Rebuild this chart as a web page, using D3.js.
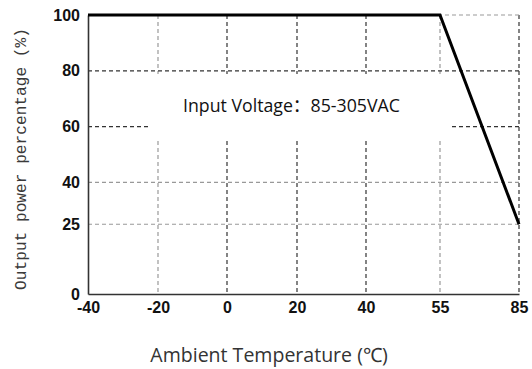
<!DOCTYPE html>
<html>
<head>
<meta charset="utf-8">
<script src="https://cdn.jsdelivr.net/npm/d3@7"></script>
<style>
  html, body { margin: 0; padding: 0; background: #fff; }
  svg { display: block; }
</style>
</head>
<body>
<svg id="chart" width="532" height="369"></svg>
<script>
// ---- data ----
const temperature = [-40, 55, 85];        // ambient temperature (°C)
const powerPct    = [100, 100, 25];       // output power percentage (%)
const xTickValues = [-40, -20, 0, 20, 40, 55, 85];
const yTickValues = [0, 25, 40, 60, 80, 100];
const xTitle = "Ambient Temperature (\u2103)";
const yTitle = "Output power percentage (%)";
const noteText = "Input Voltage\uFF1A85-305VAC";

// ---- layout ----
const W = 532, H = 369;
const plot = { left: 88, right: 519, top: 15, bottom: 294 };
// the reference axis is non-uniform: tick positions along the x axis
const xTickPx = [88, 158, 227, 297, 366, 440, 519];
const darkX = new Set([0, 20, 40, 85]);
const darkY = new Set([60, 80]);

const svg = d3.select("#chart");

const x = d3.scaleLinear().domain(xTickValues).range(xTickPx);
const y = d3.scaleLinear().domain([0, 100]).range([plot.bottom, plot.top]);

// grid lines
const grid = svg.append("g");
grid.selectAll("line.vx")
  .data(xTickValues.filter(d => d !== -40))
  .join("line")
  .attr("x1", d => x(d)).attr("x2", d => x(d))
  .attr("y1", y(100)).attr("y2", y(0))
  .attr("stroke", d => darkX.has(d) ? "#333" : "#999")
  .attr("stroke-width", 1.2)
  .attr("stroke-dasharray", "4,3");
grid.selectAll("line.hy")
  .data(yTickValues.filter(d => d !== 0))
  .join("line")
  .attr("x1", x(-40)).attr("x2", x(85))
  .attr("y1", d => y(d)).attr("y2", d => y(d))
  .attr("stroke", d => darkY.has(d) ? "#333" : "#999")
  .attr("stroke-width", 1.2)
  .attr("stroke-dasharray", "4,3");

// white patch behind the note (as in the reference)
svg.append("rect")
  .attr("x", 150).attr("y", 74).attr("width", 300).attr("height", 66)
  .attr("fill", "#fff");

// axes (left and bottom solid)
const fmt = d => String(d);
const xAxis = d3.axisBottom(x).tickValues(xTickValues).tickSize(0).tickPadding(8)
  .tickFormat(fmt);
const gx = svg.append("g").attr("transform", `translate(0,${plot.bottom})`).call(xAxis);
gx.select(".domain").attr("stroke", "#333").attr("stroke-width", 1.6);
gx.selectAll("text")
  .attr("font-family", "Liberation Sans, Arial, sans-serif")
  .attr("font-weight", "bold").attr("font-size", 16).attr("fill", "#111")
  .attr("dy", "0.71em");

const yAxis = d3.axisLeft(y).tickValues(yTickValues).tickSize(0).tickPadding(8)
  .tickFormat(fmt);
const gy = svg.append("g").attr("transform", `translate(${plot.left},0)`).call(yAxis);
gy.select(".domain").attr("stroke", "#333").attr("stroke-width", 1.6);
gy.selectAll("text")
  .attr("font-family", "Liberation Sans, Arial, sans-serif")
  .attr("font-weight", "bold").attr("font-size", 16).attr("fill", "#111");

// derating curve
const pts = temperature.map((t, i) => [t, powerPct[i]]);
svg.append("path")
  .datum(pts)
  .attr("fill", "none")
  .attr("stroke", "#000")
  .attr("stroke-width", 3)
  .attr("stroke-linejoin", "miter")
  .attr("d", d3.line().x(d => x(d[0])).y(d => y(d[1])));

// helper: fit text to a width
function fit(sel, width) {
  const len = sel.node().getComputedTextLength();
  const fs = parseFloat(sel.attr("font-size"));
  sel.attr("font-size", (fs * width / len).toFixed(2));
}

// note
const note = svg.append("text")
  .attr("x", 183).attr("y", 112)
  .attr("font-family", "Open Sans, Noto Sans CJK SC, sans-serif")
  .attr("font-size", 17).attr("fill", "#111")
  .text(noteText);
fit(note, 217);

// titles
const xt = svg.append("text")
  .attr("x", 269).attr("y", 362)
  .attr("text-anchor", "middle")
  .attr("font-family", "Open Sans, sans-serif")
  .attr("font-size", 17).attr("fill", "#333")
  .text(xTitle);
fit(xt, 238);

const yt = svg.append("text")
  .attr("transform", "translate(26,159) rotate(-90)")
  .attr("text-anchor", "middle")
  .attr("font-family", "Liberation Mono, DejaVu Sans Mono, monospace")
  .attr("font-size", 16).attr("fill", "#3a3a3a")
  .text(yTitle);
fit(yt, 262);
</script>
</body>
</html>
